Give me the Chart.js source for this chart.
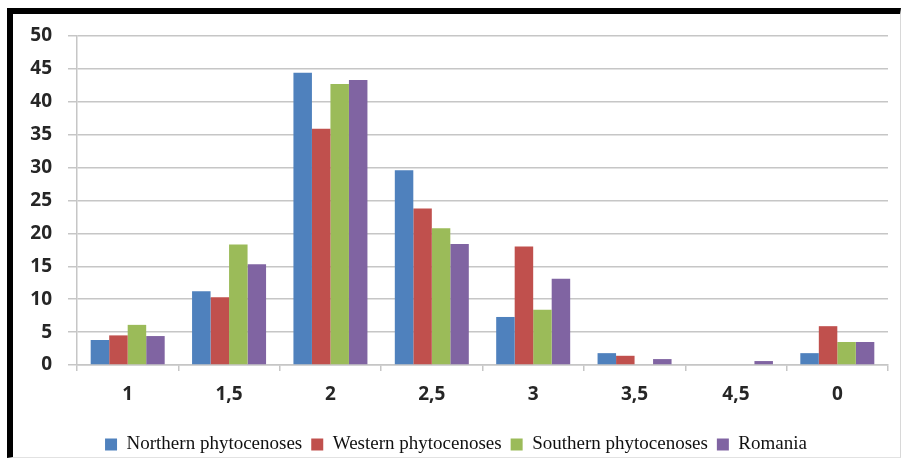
<!DOCTYPE html>
<html>
<head>
<meta charset="utf-8">
<script src="https://cdn.jsdelivr.net/npm/chart.js@4.4.0/dist/chart.umd.min.js"></script>
<style>
  html, body { margin: 0; padding: 0; background: #fff; }
  #wrap { position: relative; width: 906px; height: 460px; overflow: hidden; }
  #grafico { position: absolute; left: 0; top: 0; }
  #moldura {
    position: absolute; left: 7px; top: 8px; width: 887px; height: 443px;
    border-top: 6px solid #000; border-left: 6px solid #000;
    border-right: 1px solid #d8d8d8; border-bottom: 1px solid #e2e2e2;
    pointer-events: none;
  }
</style>
</head>
<body>
<div id="wrap">
  <canvas id="grafico" width="906" height="460"></canvas>
  <div id="moldura"></div>
</div>
<script>
// Dados
const categorias = ["1", "1,5", "2", "2,5", "3", "3,5", "4,5", "0"];
const northern = [3.8, 11.2, 44.4, 29.6, 7.3, 1.8, 0, 1.8];
const western = [4.5, 10.3, 35.9, 23.8, 18.0, 1.4, 0, 5.9];
const southern = [6.1, 18.3, 42.7, 20.8, 8.4, 0, 0, 3.5];
const romania = [4.4, 15.3, 43.3, 18.4, 13.1, 0.9, 0.6, 3.5];
const ticksY = [0, 5, 10, 15, 20, 25, 30, 35, 40, 45, 50];

const corGrade = "#c6c6c6";
const fonteEixo = { family: "'Open Sans', sans-serif", size: 19, weight: "bold" };

function serie(label, data, cor) {
  return {
    label: label,
    data: data,
    backgroundColor: cor,
    borderWidth: 0,
    barPercentage: 1,
    categoryPercentage: 0.73
  };
}

new Chart(document.getElementById("grafico"), {
  type: "bar",
  data: {
    labels: categorias,
    datasets: [
      serie("Northern phytocenoses", northern, "#4f81bd"),
      serie("Western phytocenoses", western, "#c0504d"),
      serie("Southern phytocenoses", southern, "#9bbb59"),
      serie("Romania", romania, "#8064a2")
    ]
  },
  options: {
    responsive: false,
    animation: false,
    layout: { padding: { left: 24, right: 18, top: 36, bottom: -4 } },
    plugins: {
      title: { display: false },
      tooltip: { enabled: false },
      legend: {
        position: "bottom",
        labels: {
          boxWidth: 12,
          boxHeight: 12,
          padding: 9,
          color: "#111",
          font: { family: "'Liberation Serif', serif", size: 19 }
        }
      }
    },
    scales: {
      x: {
        grid: {
          offset: true,
          drawOnChartArea: false,
          drawTicks: true,
          tickLength: 6,
          color: corGrade,
          lineWidth: 1.5
        },
        border: { color: corGrade, width: 1.5 },
        ticks: { color: "#262626", font: fonteEixo, padding: 12 },
        afterFit: scale => { scale.height = 61; }
      },
      y: {
        min: 0,
        max: 50,
        afterBuildTicks: scale => { scale.ticks = ticksY.map(v => ({ value: v })); },
        grid: { color: corGrade, lineWidth: 1.5, tickLength: 9 },
        border: { color: corGrade, width: 1.5 },
        ticks: { color: "#262626", font: fonteEixo, padding: 16 },
        afterFit: scale => { scale.width = 53; }
      }
    }
  }
});
</script>
</body>
</html>
